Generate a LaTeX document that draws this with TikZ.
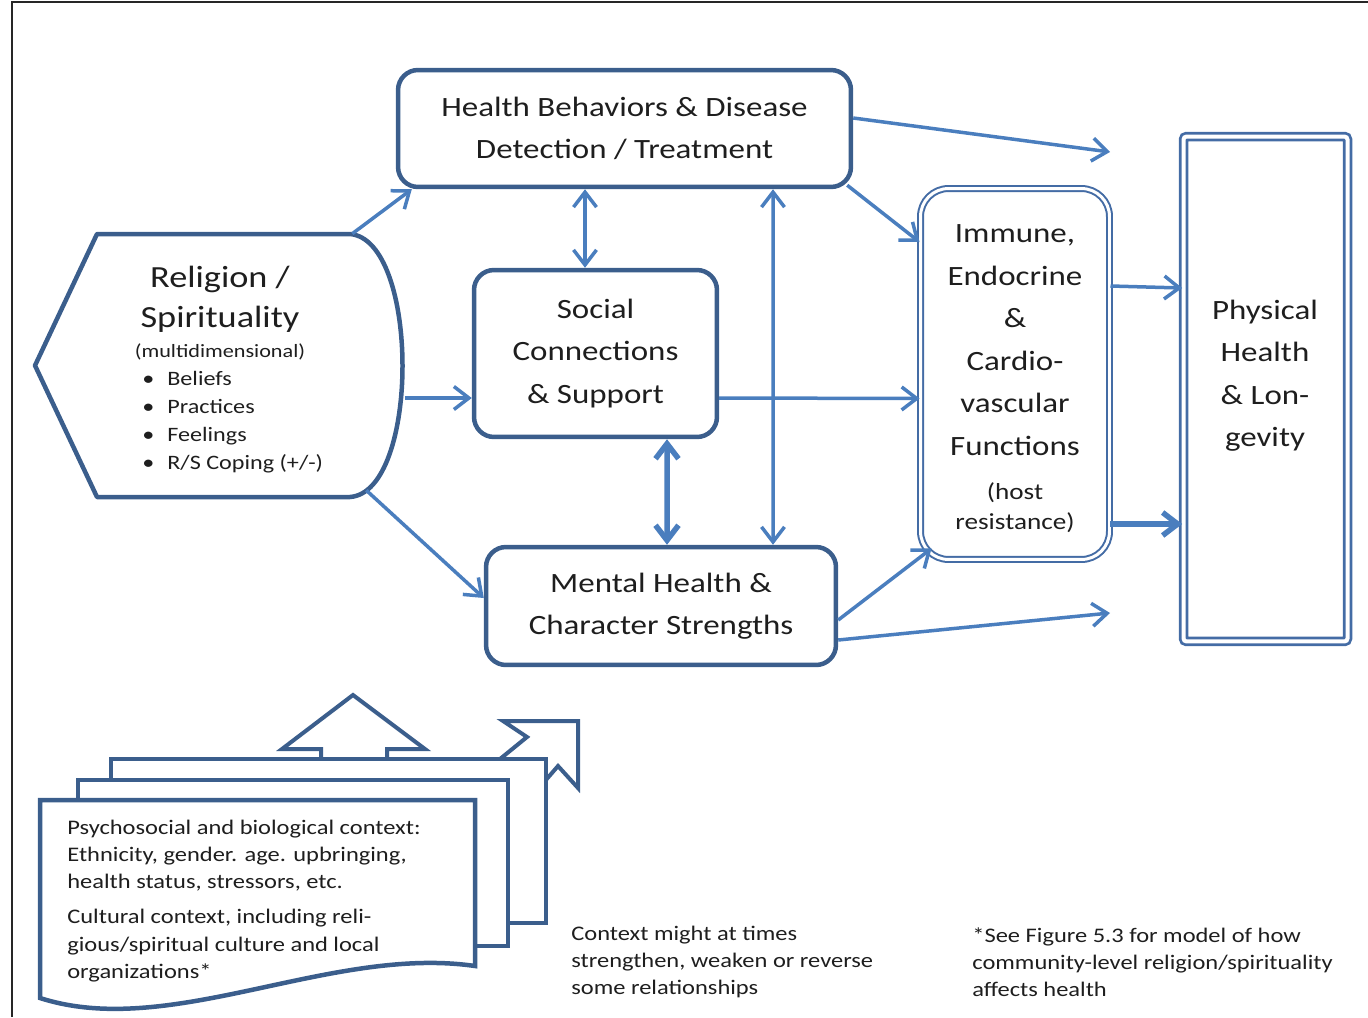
\documentclass[tikz,border=0pt]{standalone}
\usepackage{fontspec}
\setmainfont{Carlito}[FakeStretch=1.18]
\usetikzlibrary{arrows.meta,calc,positioning}

\definecolor{boxblue}{RGB}{59,94,140}
\definecolor{arrblue}{RGB}{74,126,190}
\definecolor{dblblue}{RGB}{68,108,165}
\definecolor{inkgray}{RGB}{30,30,30}

\newcommand{\bigtxt}{\fontsize{15.9}{24.2}\selectfont}
\newcommand{\rstfont}{\fontsize{17.5}{22.8}\selectfont}
\newcommand{\dimfont}{\fontsize{10.7}{13}\selectfont}
\newcommand{\listfont}{\fontsize{11.65}{15.9}\selectfont}
\newcommand{\hostfont}{\fontsize{13.1}{17.1}\selectfont}
\newcommand{\notefont}{\fontsize{11.8}{15.4}\selectfont}

\begin{document}
\begin{tikzpicture}
    [x=0.02cm, y=-0.02cm,
     >={Straight Barb[length=0.3cm,width=0.46cm]},
     box/.style={draw=boxblue, line width=0.09cm, rounded corners=0.4cm, fill=white,
                 align=center, text=inkgray, font=\bigtxt, inner sep=0pt},
     dbl/.style={draw=dblblue, double=white, fill=white, inner sep=0pt},
     txt/.style={inner sep=0pt, text=inkgray},
     note/.style={txt, align=left, font=\notefont},
     arr/.style={arrblue, line width=0.07cm},
     sheet/.style={draw=boxblue, line width=0.09cm, fill=white, line join=miter}]
    \useasboundingbox (0,0) rectangle (1368,1017);

    % frame
    \draw[black!85, line width=0.04cm] (12,1017) -- (12,2) -- (1368,2);

    % religion / spirituality
    \draw[boxblue, line width=0.09cm, line join=round]
      (97,234) -- (350,234) .. controls (420,240) and (420,492) .. (350,497)
      -- (97,497) -- (35,365.5) -- cycle;
    \node (rsbox) at (220,365.5) [minimum width=7.4cm, minimum height=5.26cm, inner sep=0pt] {};
    \node (rstitle) at (220,299) [txt, font=\rstfont, align=center] {Religion /\\Spirituality};
    \node (rsdim) at (220,352) [txt, font=\dimfont] {(multidimensional)};
    \node (rslist) at (142,422) [txt, anchor=west, align=left, font=\listfont]
      {\makebox[0.5cm][l]{\textbullet}Beliefs\\
       \makebox[0.5cm][l]{\textbullet}Practices\\
       \makebox[0.5cm][l]{\textbullet}Feelings\\
       \makebox[0.5cm][l]{\textbullet}R/S Coping (+/-)};

    % pathway boxes
    \node (hb) at (624.5,128.5) [box, minimum width=9.06cm, minimum height=2.34cm]
      {Health Behaviors \& Disease\\Detection / Treatment};
    \node (sc) at (595.5,353.5) [box, minimum width=4.86cm, minimum height=3.34cm]
      {Social\\Connections\\\& Support};
    \node (mh) at (661,606) [box, minimum width=7.0cm, minimum height=2.36cm]
      {Mental Health \&\\Character Strengths};

    \node (im) at (1015,374) [dbl, line width=0.04cm, double distance=0.06cm,
      rounded corners=0.56cm, minimum width=3.78cm, minimum height=7.42cm] {};
    \node (imtxt) at (1015,340) [txt, font=\bigtxt, align=center]
      {Immune,\\Endocrine\\\&\\Cardio-\\vascular\\Functions};
    \node (imhost) at (1015,508) [txt, font=\hostfont, align=center] {(host\\resistance)};

    \node (ph) at (1265.5,389) [dbl, line width=0.055cm, double distance=0.08cm,
      rounded corners=0.06cm, minimum width=3.28cm, minimum height=10.1cm] {};
    \node (phtxt) at (1265,375.5) [txt, font=\bigtxt, align=center]
      {Physical\\Health\\\& Lon-\\gevity};

    \coordinate (hbout) at (1110,152);
    \coordinate (mhout) at (1110,613);

    % connectors
    \draw[arr,->] ($(rsbox.north east)+(-53,0)$) -- ($(hb.south west)+(16,0)$);
    \draw[arr,->] ($(rsbox.east)+(0,32.5)$) -- ($(sc.west)+(0,44.5)$);
    \draw[arr,->] ($(rsbox.south east)+(-39,-7)$) -- ($(mh.west)+(0,-8)$);
    \draw[arr,<->] ($(hb.south)+(-39.5,0)$) -- ($(sc.north)+(-10.5,0)$);
    \draw[arr,<->,line width=0.11cm] ($(sc.south)+(71.5,0)$) -- ($(mh.north)+(6,0)$);
    \draw[arr,<->] ($(hb.south)+(148.5,0)$) -- ($(mh.north)+(112,0)$);
    \draw[arr,->] ($(sc.east)+(0,44.5)$) -- ($(im.west)+(0,24.5)$);
    \draw[arr,->] ($(hb.south east)+(-6,-4)$) -- ($(im.west)+(0,-132)$);
    \draw[arr,->] ($(hb.east)+(0,-10.5)$) -- (hbout);
    \draw[arr,->] ($(mh.east)+(0,14)$) -- ($(im.south west)+(12,-12)$);
    \draw[arr,->] ($(mh.east)+(0,34)$) -- (mhout);
    \draw[arr,->] ($(im.east)+(0,-88)$) -- ($(ph.west)+(0,-101)$);
    \draw[arr,->,line width=0.11cm] ($(im.east)+(0,150)$) -- ($(ph.west)+(0,135)$);

    % context arrows and sheets
    \draw[sheet, line width=0.08cm] (321,759) -- (321,749) -- (282,749) -- (353,695)
      -- (425,749) -- (387,749) -- (387,759);
    \draw[sheet, line width=0.08cm] (500,759) -- (527,737) -- (503,721) -- (578,721)
      -- (578,788) -- (558,766) -- (545,781);
    \draw[sheet] (111,759) rectangle (546,923);
    \draw[sheet] (78,780) rectangle (508,946);
    \draw[sheet] (40,800) -- (475,800) -- (475,966)
      .. controls (330,945) and (170,1040) .. (40,998) -- cycle;

    \node (ctxtxt) at (67,901) [note, anchor=west]
      {Psychosocial and biological context:\\
       Ethnicity, gender. age. upbringing,\\
       health status, stressors, etc.\\[4.6pt]
       Cultural context, including reli-\\
       gious/spiritual culture and local\\
       organizations*};

    \node (ctxnote) at (571,962) [note, anchor=west]
      {Context might at times\\strengthen, weaken or reverse\\some relationships};
    \node (fignote) at (972,962) [note, anchor=west]
      {*See Figure 5.3 for model of how\\community-level religion/spirituality\\affects health};
\end{tikzpicture}
\end{document}
